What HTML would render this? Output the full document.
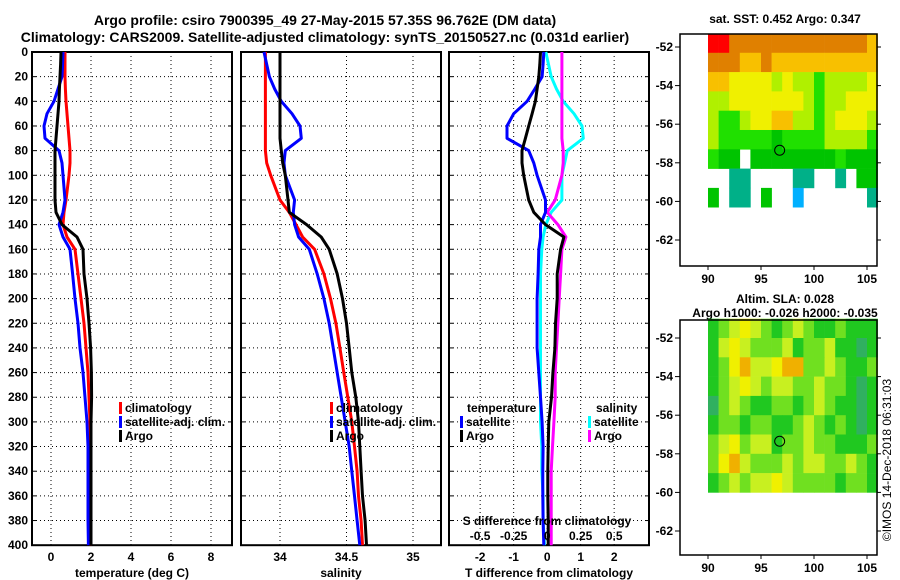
<!DOCTYPE html>
<html><head><meta charset="utf-8"><style>
body{margin:0;background:#fff}
svg{display:block;font-family:"Liberation Sans",sans-serif;font-weight:bold}
</style></head><body>
<svg id="s" width="900" height="580" viewBox="0 0 900 580">
<text x="325" y="25" font-size="14" text-anchor="middle">Argo profile: csiro 7900395_49 27-May-2015 57.35S 96.762E (DM data)</text>
<text x="325" y="42" font-size="14" text-anchor="middle">Climatology: CARS2009. Satellite-adjusted climatology: synTS_20150527.nc (0.031d earlier)</text>
<text x="785" y="23" font-size="12" text-anchor="middle">sat. SST: 0.452 Argo: 0.347</text>
<text x="785" y="303" font-size="12" text-anchor="middle">Altim. SLA: 0.028</text>
<text x="785" y="317" font-size="12" text-anchor="middle">Argo h1000: -0.026 h2000: -0.035</text>
<text transform="translate(891,460) rotate(-90)" font-size="12" font-weight="normal" text-anchor="middle">©IMOS 14-Dec-2018 06:31:03</text>
</svg>
<script>
const depths=[0,10,20,30,40,50,60,70,80,90,100,120,130,140,150,160,180,200,220,240,260,280,300,320,340,360,380,400];
const tArgo=[0.5,0.48,0.45,0.42,0.4,0.35,0.3,0.25,0.2,0.2,0.2,0.2,0.25,0.55,1.3,1.6,1.65,1.8,1.9,1.98,2.02,2.03,2.0,2.0,2.0,2.0,2.0,2.0];
const tClim=[0.7,0.7,0.7,0.72,0.75,0.8,0.85,0.9,0.95,0.95,0.9,0.75,0.65,0.6,0.8,1.2,1.35,1.5,1.65,1.75,1.85,1.9,1.95,1.97,1.98,1.98,1.97,1.97];
const tSat=[0.6,0.58,0.55,0.35,0.15,-0.2,-0.35,-0.3,0.4,0.55,0.6,0.7,0.6,0.4,0.6,0.95,1.08,1.2,1.35,1.45,1.6,1.7,1.8,1.85,1.85,1.85,1.85,1.87];
const sArgo=[34.0,34.0,34.0,34.0,34.0,34.0,34.0,34.0,34.01,34.02,34.04,34.06,34.07,34.2,34.31,34.37,34.43,34.47,34.5,34.52,34.54,34.57,34.59,34.6,34.61,34.62,34.64,34.65];
const sClim=[33.89,33.89,33.89,33.89,33.89,33.89,33.89,33.89,33.89,33.9,33.93,34.0,34.07,34.12,34.17,34.26,34.33,34.38,34.42,34.45,34.48,34.51,34.54,34.56,34.58,34.59,34.61,34.62];
const sSat=[33.88,33.9,33.92,33.96,34.01,34.09,34.15,34.16,34.04,34.03,34.04,34.11,34.1,34.11,34.14,34.22,34.28,34.33,34.37,34.4,34.43,34.46,34.49,34.52,34.54,34.56,34.58,34.6];
const depthTicks=[0,20,40,60,80,100,120,140,160,180,200,220,240,260,280,300,320,340,360,380,400];
const tTicks=[0,2,4,6,8];
const sTicks=[34,34.5,35];
const dTicks=[-2,-1,0,1,2];
const sdTicks=[-0.5,-0.25,0,0.25,0.5];
const sdTickLabels=["-0.5","-0.25","0","0.25","0.5"];
const mapLons=[90,91,92,93,94,95,96,97,98,99,100,101,102,103,104,105];
const sstLatTops=[-51.3,-52.3,-53.3,-54.3,-55.3,-56.3,-57.3,-58.3,-59.3];
const N=null;
const sstGrid=[
[8,8,7,7,7,7,7,7,7,7,7,7,7,7,7,6],
[7,7,7,6,6,7,6,6,6,6,6,6,6,6,6,6],
[6,6,5,5,5,5,4,5,4,4,3,4,4,4,4,5],
[4,4,5,5,5,5,5,5,5,4,3,4,4,5,5,5],
[4,3,3,4,5,5,6,6,4,4,3,4,5,5,5,4],
[4,3,3,3,3,3,2,3,3,3,3,4,4,4,4,3],
[3,2,2,N,2,2,2,2,2,2,2,2,3,2,2,2],
[N,N,1,1,N,N,N,N,1,1,N,N,1,N,2,2],
[2,N,1,1,N,2,N,N,0,N,N,N,N,N,N,1]];
const slaLatTops=[-51,-52,-53,-54,-55,-56,-57,-58,-59];
const slaGrid=[
[1,2,3,4,3,2,1,2,3,2,1,1,2,1,1,1],
[1,3,4,3,2,2,2,3,1,2,2,3,1,1,0,1],
[1,2,4,5,3,3,4,5,5,2,2,3,2,1,1,2],
[1,2,3,4,3,2,3,3,2,2,3,2,2,1,0,1],
[0,2,3,2,1,1,2,2,1,2,3,2,1,1,0,1],
[1,2,2,1,2,2,1,1,2,3,2,1,2,1,0,1],
[2,3,4,2,3,3,1,2,2,3,2,2,1,1,1,2],
[2,4,5,3,2,2,2,3,2,3,3,2,2,3,2,1],
[1,2,3,2,3,3,4,3,2,2,2,2,1,2,2,1]];
const mapLatTicks=[-52,-54,-56,-58,-60,-62];
const mapLonTicks=[90,95,100,105];
const argoLon=96.76, argoLat=-57.35;

const sstPal=["#00b0ff","#00b088","#00c400","#20e000","#b0f000","#f0f000","#f8c000","#e08000","#ff0000"];
const slaPal=["#30b060","#20c820","#70e020","#c8f020","#f0f000","#f0b000"];
const NS="http://www.w3.org/2000/svg";
const svg=document.getElementById('s');
function mk(t,a,p){const e=document.createElementNS(NS,t);for(const k in a)e.setAttribute(k,a[k]);(p||svg).appendChild(e);return e;}
function yD(d){return 52+d*1.233;}
const panels=[
 {x0:32,x1:232,lo:-0.95,hi:9.05,ticks:tTicks,labels:tTicks.map(String),title:"temperature (deg C)",name:"temperature"},
 {x0:241,x1:441,lo:34-39/133,hi:34-39/133+200/133,ticks:sTicks,labels:["34","34.5","35"],title:"salinity",name:"salinity"},
 {x0:449,x1:649,lo:-2.93,hi:3.04,ticks:dTicks,labels:dTicks.map(String),title:"T difference from climatology",name:"difference"}];
panels.forEach(p=>{
 p.sx=v=>p.x0+(v-p.lo)/(p.hi-p.lo)*(p.x1-p.x0);
 const g=mk('g',{});
 
 
 depthTicks.forEach(d=>{if(d>0&&d<400){const l=mk('line',{x1:p.x0,x2:p.x1,y1:yD(d),y2:yD(d),stroke:"#000","stroke-dasharray":"1,3","stroke-width":1},g);
  }
  mk('line',{x1:p.x0,x2:p.x0+4,y1:yD(d),y2:yD(d),stroke:"#000"},g);mk('line',{x1:p.x1-4,x2:p.x1,y1:yD(d),y2:yD(d),stroke:"#000"},g);});
 p.ticks.forEach((t,i)=>{const x=p.sx(t);
  const l=mk('line',{x1:x,x2:x,y1:52,y2:yD(400),stroke:"#000","stroke-dasharray":"1,3"},g);
  
  const tx=mk('text',{x:x,y:561,"font-size":12,"text-anchor":"middle"},g);tx.textContent=p.labels[i];
  });
 const r=mk('rect',{x:p.x0,y:52,width:p.x1-p.x0,height:yD(400)-52,fill:"none",stroke:"#000","stroke-width":2},g);
 
 const tt=mk('text',{x:(p.x0+p.x1)/2,y:577,"font-size":12,"text-anchor":"middle"},g);tt.textContent=p.title;
 
});
depthTicks.forEach(d=>{const t=mk('text',{x:28,y:yD(d)+4,"font-size":12,"text-anchor":"end"});t.textContent=d;
 });
function line(p,vals,col,name){const pts=vals.map((v,i)=>p.sx(v).toFixed(1)+","+yD(depths[i]).toFixed(1)).join(" ");
 const e=mk('polyline',{points:pts,fill:"none",stroke:col,"stroke-width":3,"stroke-linejoin":"round"});
 }
line(panels[0],tClim,"#f00","temperature-climatology-line");
line(panels[0],tSat,"#00f","temperature-satellite-line");
line(panels[0],tArgo,"#000","temperature-argo-line");
line(panels[1],sClim,"#f00","salinity-climatology-line");
line(panels[1],sSat,"#00f","salinity-satellite-line");
line(panels[1],sArgo,"#000","salinity-argo-line");
line(panels[2],sSat.map((v,i)=>(v-sClim[i])*4),"#0ff","salinity-satellite-diff-line");
line(panels[2],sArgo.map((v,i)=>(v-sClim[i])*4),"#f0f","salinity-argo-diff-line");
line(panels[2],tSat.map((v,i)=>v-tClim[i]),"#00f","temperature-satellite-diff-line");
line(panels[2],tArgo.map((v,i)=>v-tClim[i]),"#000","temperature-argo-diff-line");
function leg(x,y,col,txt,name){const r=mk('rect',{x:x,y:y-10,width:3,height:12,fill:col});
 
 const t=mk('text',{x:x+6,y:y,"font-size":12});t.textContent=txt;
 }
[[119,"#f00","climatology"],[330,"#f00","climatology"]].forEach(a=>leg(a[0],412,a[1],a[2],'legend-climatology'));
[119,330].forEach(x=>{leg(x,426,"#00f","satellite-adj. clim.",'legend-satellite-adj');leg(x,440,"#000","Argo",'legend-argo');});
let t=mk('text',{x:467,y:412,"font-size":12});t.textContent="temperature";
t=mk('text',{x:596,y:412,"font-size":12});t.textContent="salinity";
leg(460,426,"#00f","satellite",'legend-t-satellite');leg(460,440,"#000","Argo",'legend-t-argo');
leg(588,426,"#0ff","satellite",'legend-s-satellite');leg(588,440,"#f0f","Argo",'legend-s-argo');
t=mk('text',{x:547,y:525,"font-size":12,"text-anchor":"middle"});t.textContent="S difference from climatology";
sdTicks.forEach((v,i)=>{const e=mk('text',{x:panels[2].sx(v*4),y:540,"font-size":12,"text-anchor":"middle"});e.textContent=sdTickLabels[i];
 });

function map(top,bot,lat0y,name,latTops,grid,pal){
 const lx=v=>708+(v-90)*10.6, ly=v=>lat0y+(-52-v)*19.3;
 const g=mk('g',{});
 latTops.forEach((lt,r)=>mapLons.forEach((lo,c)=>{const v=grid[r][c];if(v===null)return;
  const e=mk('rect',{x:lx(lo),y:ly(lt),width:10.9,height:19.6,fill:pal[v]},g);
  }));
 const fr=mk('rect',{x:680,y:top,width:197,height:bot-top,fill:"none",stroke:"#000","stroke-width":1.5},g);
 
 mapLatTicks.forEach(v=>{const y=ly(v);mk('line',{x1:680,x2:675,y1:y,y2:y,stroke:"#000"},g);mk('line',{x1:877,x2:881,y1:y,y2:y,stroke:"#000"},g);
  const e=mk('text',{x:673,y:y+4,"font-size":12,"text-anchor":"end"},g);e.textContent=v;
  });
 mapLonTicks.forEach(v=>{const x=lx(v);mk('line',{x1:x,x2:x,y1:bot,y2:bot+4,stroke:"#000"},g);
  const e=mk('text',{x:x,y:bot+17,"font-size":12,"text-anchor":"middle"},g);e.textContent=v;
  });
 const c=mk('circle',{cx:lx(argoLon),cy:ly(argoLat),r:5,fill:"none",stroke:"#000"},g);
 
}
map(34,266,47,'sst-map',sstLatTops,sstGrid,sstPal);
map(320,555,338,'sla-map',slaLatTops,slaGrid,slaPal);
</script>
</body></html>
